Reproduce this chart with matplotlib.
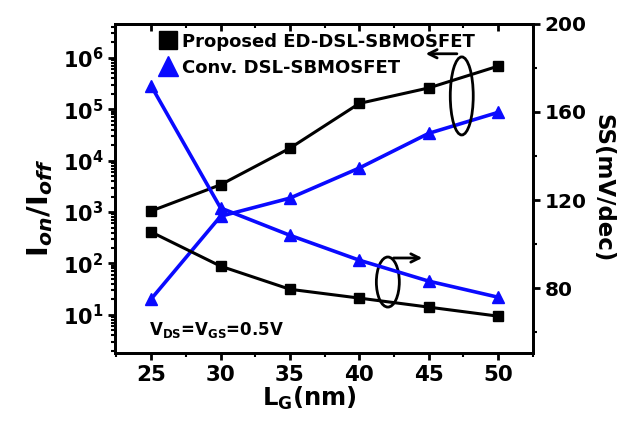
import numpy as np
import matplotlib
matplotlib.use('Agg')
import matplotlib.pyplot as plt
from matplotlib.lines import Line2D
from matplotlib.patches import Ellipse
from matplotlib.ticker import (LogLocator, FuncFormatter, MultipleLocator,
                               AutoMinorLocator, NullFormatter)

# gate length sweep
lg = [25, 30, 35, 40, 45, 50]

# Ion/Ioff ratio
ratio_proposed = [1.05e3, 3.4e3, 1.75e4, 1.3e5, 2.6e5, 6.9e5]
ratio_conv = [20.4, 830, 1.87e3, 7.2e3, 3.4e4, 8.7e4]

# subthreshold swing, mV/dec
ss_proposed = [105.5, 90.0, 79.5, 75.5, 71.4, 67.3]
ss_conv = [171.8, 116.4, 104.0, 92.7, 83.2, 75.9]

BLUE = '#0a0aff'

plt.rcParams['font.family'] = ['DejaVu Sans']
plt.rcParams['font.weight'] = 'bold'
plt.rcParams['axes.labelweight'] = 'bold'
plt.rcParams['mathtext.fontset'] = 'custom'
plt.rcParams['mathtext.bf'] = 'DejaVu Sans:bold'
plt.rcParams['mathtext.rm'] = 'DejaVu Sans:bold'
plt.rcParams['mathtext.it'] = 'DejaVu Sans:italic:bold'
plt.rcParams['mathtext.default'] = 'bf'

fig = plt.figure(figsize=(6.29, 4.25), dpi=100)
ax = fig.add_axes([0.183, 0.169, 0.664, 0.775])
ax2 = ax.twinx()

# left axis: on/off ratio
ax.plot(lg, ratio_proposed, color='black', lw=2.2, marker='s', ms=6.5, zorder=3)
ax.plot(lg, ratio_conv, color=BLUE, lw=2.6, marker='^', ms=9, zorder=3)
ax.set_yscale('log')
ax.set_ylim(1.8, 4.6e6)
ax.set_xlim(22.4, 52.5)

# right axis: swing
ax2.plot(lg, ss_proposed, color='black', lw=2.2, marker='s', ms=6.5)
ax2.plot(lg, ss_conv, color=BLUE, lw=2.6, marker='^', ms=9)
ax2.set_ylim(50.5, 200)

ax.yaxis.set_major_locator(LogLocator(base=10, numticks=20))
ax.yaxis.set_minor_locator(LogLocator(base=10, subs=np.arange(2, 10), numticks=100))
ax.yaxis.set_major_formatter(FuncFormatter(lambda v, p: r'$10^{%d}$' % round(np.log10(v))))
ax.yaxis.set_minor_formatter(NullFormatter())
ax.xaxis.set_major_locator(MultipleLocator(5))
ax.xaxis.set_minor_locator(AutoMinorLocator(2))
ax2.yaxis.set_major_locator(MultipleLocator(40))
ax2.yaxis.set_minor_locator(MultipleLocator(20))

for a in (ax, ax2):
    for s in a.spines.values():
        s.set_linewidth(2)
ax.tick_params(axis='x', which='major', direction='out', length=5, width=2, labelsize=15.5)
ax.tick_params(axis='y', which='major', direction='out', length=5, width=2, labelsize=15)
ax.tick_params(axis='both', which='minor', direction='out', length=3, width=1.5)
ax2.tick_params(axis='y', which='major', direction='out', length=5, width=2, labelsize=14.5)
ax2.tick_params(axis='y', which='minor', direction='out', length=3, width=1.5)
for t in ax.get_xticklabels() + ax2.get_yticklabels():
    t.set_fontweight('bold')

top = ax.secondary_xaxis('top')
top.xaxis.set_major_locator(MultipleLocator(5))
top.xaxis.set_minor_locator(AutoMinorLocator(2))
top.tick_params(which='major', direction='in', length=5, width=2, labeltop=False)
top.tick_params(which='minor', direction='in', length=3, width=1.5)
top.spines['top'].set_linewidth(2)

ax.set_xlabel(r'$L_G$(nm)', fontsize=17.5, fontweight='bold')
ax.xaxis.set_label_coords(0.466, -0.097)
ax.set_ylabel(r'$I_{\mathit{on}}/I_{\mathit{off}}$', fontsize=21)
ax.yaxis.set_label_coords(-0.145, 0.44)
ax2.set_ylabel('SS(mV/dec)', fontsize=16.5, fontweight='bold', rotation=270, labelpad=20)

handles = [Line2D([], [], color='black', marker='s', ls='none', ms=13),
           Line2D([], [], color=BLUE, marker='^', ls='none', ms=14)]
ax.legend(handles, ['Proposed ED-DSL-SBMOSFET', 'Conv. DSL-SBMOSFET'],
          loc='upper left', bbox_to_anchor=(0.09, 0.995), frameon=False,
          prop={'size': 13, 'weight': 'bold'}, handlelength=0.9,
          handletextpad=0.35, labelspacing=0.45, borderaxespad=0)

ax.text(0.08, 0.055, r'$V_{DS}$=$V_{GS}$=0.5V', transform=ax.transAxes,
        fontsize=12, fontweight='bold')

# ellipses marking which curves go to which axis
ax.add_patch(Ellipse((0.830, 0.781), 0.055, 0.237, transform=ax.transAxes,
                     fill=False, lw=2, ec='black', zorder=5))
ax.annotate('', xy=(0.737, 0.909), xytext=(0.825, 0.909), xycoords='axes fraction',
            arrowprops=dict(arrowstyle='->', lw=2, color='black', mutation_scale=15))
ax.add_patch(Ellipse((0.653, 0.216), 0.055, 0.152, transform=ax.transAxes,
                     fill=False, lw=2, ec='black', zorder=5))
ax.annotate('', xy=(0.742, 0.289), xytext=(0.66, 0.289), xycoords='axes fraction',
            arrowprops=dict(arrowstyle='->', lw=2, color='black', mutation_scale=15))

fig.savefig('out.png', dpi=100)
